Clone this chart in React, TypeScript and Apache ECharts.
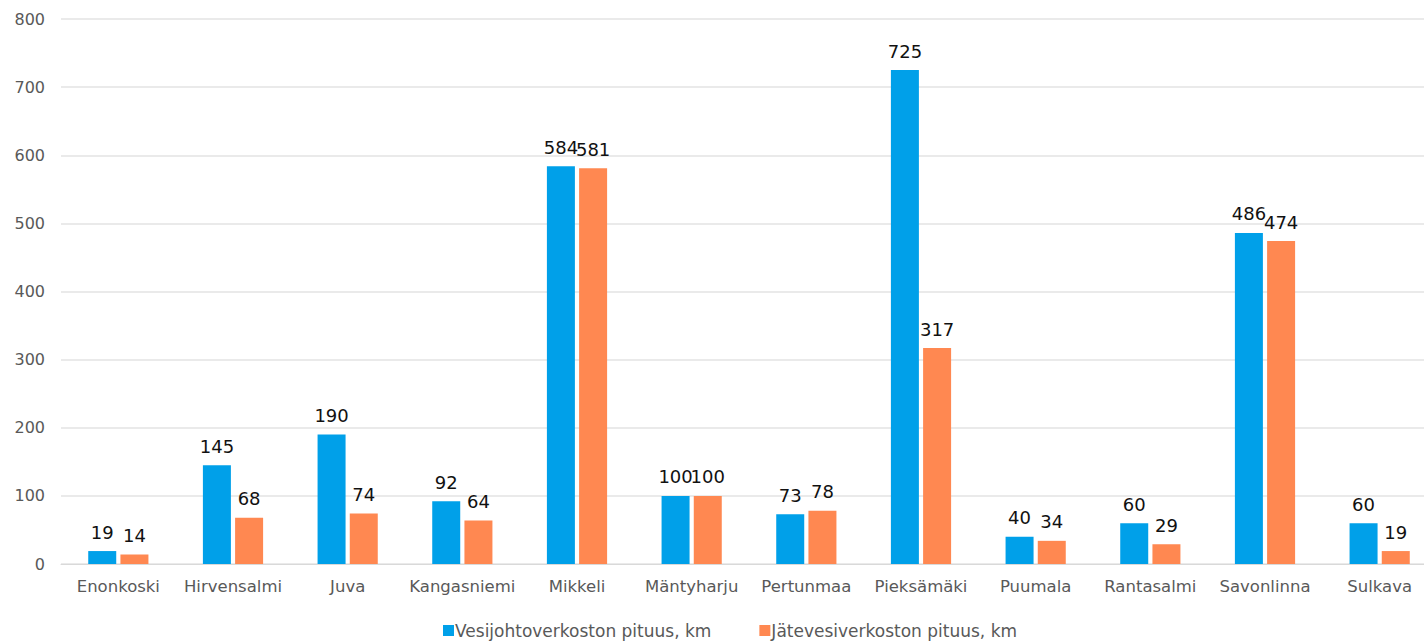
import React, { useEffect, useRef } from "react";
import * as echarts from "echarts";

const categories = ["Enonkoski", "Hirvensalmi", "Juva", "Kangasniemi", "Mikkeli", "Mäntyharju", "Pertunmaa", "Pieksämäki", "Puumala", "Rantasalmi", "Savonlinna", "Sulkava"];
const waterNetwork = [19, 145, 190, 92, 584, 100, 73, 725, 40, 60, 486, 60];
const sewerNetwork = [14, 68, 74, 64, 581, 100, 78, 317, 34, 29, 474, 19];
const seriesNames = ["Vesijohtoverkoston pituus, km", "Jätevesiverkoston pituus, km"];

export default function App() {
  const ref = useRef<HTMLDivElement>(null);
  useEffect(() => {
    const chart = echarts.init(ref.current!, undefined, { renderer: "svg" });
    const font = "DejaVu Sans, Verdana, sans-serif";
    chart.setOption({
      animation: false,
      textStyle: { fontFamily: font },
      grid: { left: 61, top: 19, right: 0, bottom: 79, containLabel: false },
      legend: {
        top: 617,
        left: 438,
        padding: 5,
        itemWidth: 11,
        itemHeight: 11,
        itemGap: 48,
        icon: "rect",
        textStyle: { fontSize: 17, color: "#595959", fontFamily: font, padding: [0, 0, 0, -4] },
        data: seriesNames,
      },
      xAxis: {
        type: "category",
        data: categories,
        axisTick: { show: false },
        axisLine: { lineStyle: { color: "#d9d9d9", width: 1 } },
        axisLabel: { fontSize: 16.5, color: "#595959", margin: 14, interval: 0, fontFamily: font },
      },
      yAxis: {
        type: "value",
        min: 0,
        max: 800,
        interval: 100,
        axisLabel: { fontSize: 16, color: "#595959", margin: 16, fontFamily: font },
        splitLine: { lineStyle: { color: "#e3e3e3", width: 1.5 } },
      },
      series: [
        {
          name: seriesNames[0],
          type: "bar",
          data: waterNetwork,
          barWidth: 28,
          barGap: "15%",
          itemStyle: { color: "#00a0e9" },
          label: { show: true, position: "top", fontSize: 18, color: "#111", fontFamily: font, distance: 10 },
        },
        {
          name: seriesNames[1],
          type: "bar",
          data: sewerNetwork,
          barWidth: 28,
          barGap: "15%",
          itemStyle: { color: "#ff8851" },
          label: { show: true, position: "top", fontSize: 18, color: "#111", fontFamily: font, distance: 10 },
        },
      ],
    });
    return () => chart.dispose();
  }, []);
  return (
    <div style={{ position: "fixed", left: 0, top: 0, width: 1424, height: 643, overflow: "hidden", background: "#fff" }}>
      <div ref={ref} style={{ width: 1437, height: 643 }} />
    </div>
  );
}
